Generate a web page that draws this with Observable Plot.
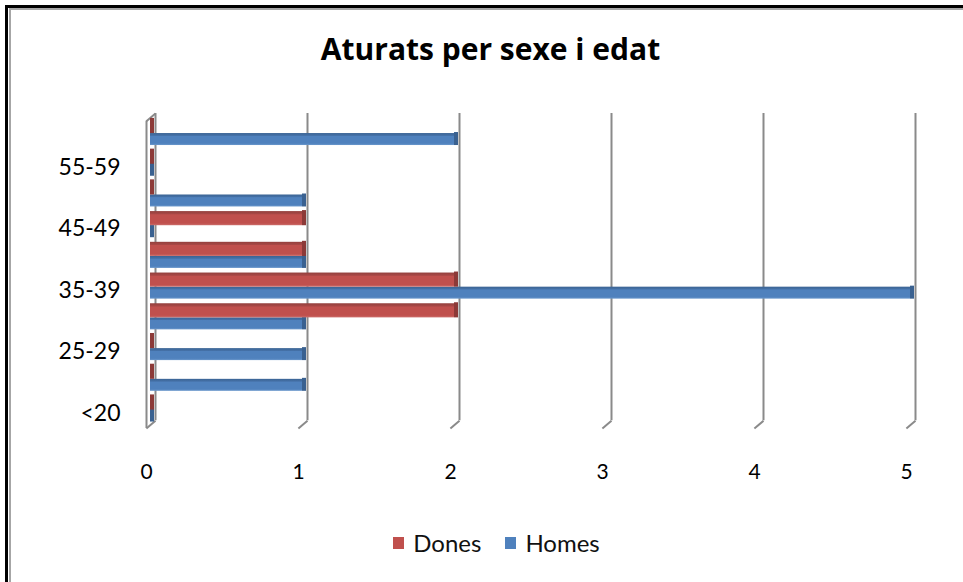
<!DOCTYPE html>
<html>
<head>
<meta charset="utf-8">
<script src="https://cdn.jsdelivr.net/npm/d3@7"></script>
<script src="https://cdn.jsdelivr.net/npm/@observablehq/plot@0.6"></script>
<style>
  html, body { margin: 0; padding: 0; background: #fff; }
  #page { position: relative; width: 963px; height: 582px; overflow: hidden; background: #fff; font-family: Lato, "Open Sans", sans-serif; }
  .bk-top { position: absolute; left: 5px; top: 5px; right: 0; height: 3px; background: #000; }
  .bk-left { position: absolute; left: 5px; top: 5px; bottom: 0; width: 3px; background: #000; }
  .gr-top { position: absolute; left: 9px; top: 8px; right: 0; height: 2px; background: #a6a6a6; }
  .gr-left { position: absolute; left: 9px; top: 9px; bottom: 0; width: 2px; background: #a6a6a6; }
  #title { position: absolute; left: 0; width: 963px; top: 34px; text-align: center; font: bold 30px/30px "Open Sans", sans-serif; color: #000; margin-left: 9px; }
  #chart { position: absolute; left: 0; top: 90px; }
  #legend { position: absolute; left: 0; width: 963px; top: 531px; display: flex; justify-content: center; align-items: center; font: 24px/24px Lato, sans-serif; color: #111; margin-left: 15px; }
  .sw { display: inline-block; width: 11px; height: 12px; margin-right: 9px; }
  .item { display: flex; align-items: center; margin: 0 12px; }
</style>
</head>
<body>
<div id="page">
  <div class="bk-top"></div><div class="bk-left"></div>
  <div class="gr-top"></div><div class="gr-left"></div>
  <div id="title">Aturats per sexe i edat</div>
  <div id="chart"></div>
  <div id="legend"></div>
</div>
<script>
// Data
const categories = ["<20", "20-24", "25-29", "30-34", "35-39", "40-44", "45-49", "50-54", "55-59", "60-64"];
const series = ["Dones", "Homes"];
const dones = [0, 0, 0, 2, 2, 1, 1, 0, 0, 0];
const homes = [0, 1, 1, 1, 5, 1, 0, 1, 0, 2];
const xTicks = [0, 1, 2, 3, 4, 5];
const yLabelIdx = [0, 2, 4, 6, 8];
const colors = { Dones: "#C0504D", Homes: "#4F81BD" };
const caps = { Dones: "#8c3a38", Homes: "#3a6190" };

const rows = [];
categories.forEach((c, i) => {
  rows.push({ cat: c, idx: i, sex: "Dones", value: dones[i] });
  rows.push({ cat: c, idx: i, sex: "Homes", value: homes[i] });
});
const donesRows = rows.filter(d => d.sex === "Dones");
const homesRows = rows.filter(d => d.sex === "Homes");

// Offsets of each series bar within a category band (in category units)
const band = { Dones: [0.1, 0.56], Homes: [-0.29, 0.1] };
const yLo = d => d.idx + band[d.sex][0];
const yHi = d => d.idx + band[d.sex][1];

const axisBottom = -0.5, gridBottom = -0.25, gridTop = 9.75, wallTop = 9.5;
const foot = 0.06; // back wall perspective foot (x units)

const plot = Plot.plot({
  width: 963,
  height: 400,
  marginLeft: 150,
  marginRight: 53,
  marginTop: 20,
  marginBottom: 62,
  style: { fontFamily: "Lato, sans-serif", color: "#000", background: "transparent" },
  x: { domain: [0, 5], label: null },
  y: { domain: [-0.5, 9.85], label: null },
  marks: [
    // back wall gridlines
    Plot.ruleX(xTicks, { y1: gridBottom, y2: gridTop, dx: 5, stroke: "#8a8a8a", strokeWidth: 2 }),
    Plot.link(xTicks, { x1: d => d, x2: d => d - foot, y1: gridBottom, y2: axisBottom, dx: 5, stroke: "#8a8a8a", strokeWidth: 2 }),
    // side wall outer edge
    Plot.ruleX([0], { y1: axisBottom, y2: wallTop, dx: -4, stroke: "#8a8a8a", strokeWidth: 2 }),
    Plot.link([0], { x1: d => d - foot, x2: d => d, y1: wallTop, y2: gridTop, dx: 5, stroke: "#8a8a8a", strokeWidth: 2 }),
    // bars
    Plot.rect(homesRows, { x1: 0, x2: "value", y1: yLo, y2: yHi, fill: "url(#gHomes)" }),
    Plot.rect(homesRows, { x1: "value", x2: "value", y1: yLo, y2: yHi, insetRight: -4, insetTop: -1, fill: caps.Homes }),
    Plot.rect(donesRows, { x1: 0, x2: "value", y1: yLo, y2: yHi, fill: "url(#gDones)" }),
    Plot.rect(donesRows, { x1: "value", x2: "value", y1: yLo, y2: yHi, insetRight: -4, insetTop: -1, fill: caps.Dones }),
    // axes
    Plot.axisX({ ticks: xTicks, tickSize: 0, tickPadding: 36, dx: -4, fontSize: 21, label: null, tickFormat: d3.format("d") }),
    Plot.axisY({ ticks: yLabelIdx, tickSize: 0, tickPadding: 30, fontSize: 23, label: null, tickFormat: i => categories[i] })
  ]
});

// gradients for the 3D bar look
const defs = d3.select(plot).insert("defs", ":first-child");
function grad(id, top, mid, base, light) {
  const g = defs.append("linearGradient").attr("id", id).attr("x1", 0).attr("y1", 0).attr("x2", 0).attr("y2", 1);
  g.append("stop").attr("offset", "0").attr("stop-color", top);
  g.append("stop").attr("offset", "0.2").attr("stop-color", mid);
  g.append("stop").attr("offset", "0.26").attr("stop-color", base);
  g.append("stop").attr("offset", "0.85").attr("stop-color", base);
  g.append("stop").attr("offset", "1").attr("stop-color", light);
}
grad("gDones", "#93403d", "#a84846", colors.Dones, "#cc6d6a");
grad("gHomes", "#3b6494", "#4470a6", colors.Homes, "#6b98cc");

document.getElementById("chart").appendChild(plot);

// legend
const legend = document.getElementById("legend");
series.forEach(s => {
  const item = document.createElement("div");
  item.className = "item";
  const sw = document.createElement("span");
  sw.className = "sw";
  sw.style.background = colors[s];
  item.appendChild(sw);
  item.appendChild(document.createTextNode(s));
  legend.appendChild(item);
});
</script>
</body>
</html>
